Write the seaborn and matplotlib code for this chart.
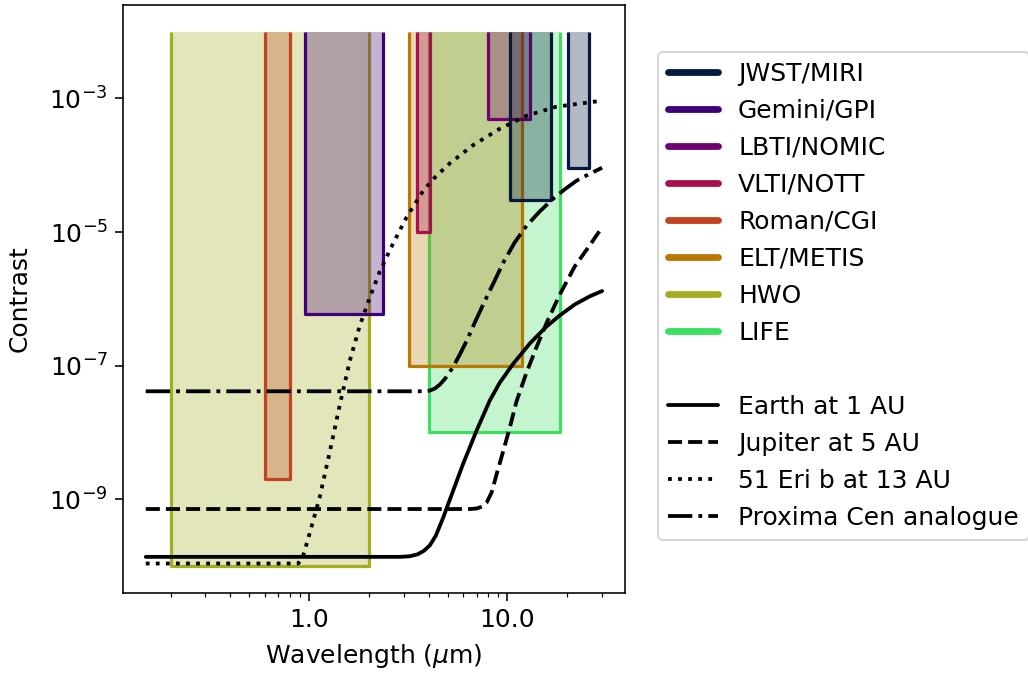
import matplotlib
matplotlib.use("Agg")
import matplotlib.pyplot as plt
from matplotlib.colors import to_rgba
from matplotlib.lines import Line2D
from matplotlib import ticker
import seaborn as sns

# Instruments, in legend order, with their colours
instruments = ["JWST/MIRI", "Gemini/GPI", "LBTI/NOMIC", "VLTI/NOTT",
               "Roman/CGI", "ELT/METIS", "HWO", "LIFE"]
inst_colors = ["#061740", "#3f0077", "#710072", "#a8114d",
               "#c1431f", "#b97800", "#a3ad1f", "#3ddf62"]

# Coverage boxes: wavelength band (micron) and the deepest contrast reached
box_instrument = ["JWST/MIRI", "JWST/MIRI", "Gemini/GPI", "LBTI/NOMIC", "VLTI/NOTT",
                  "Roman/CGI", "ELT/METIS", "HWO", "LIFE"]
box_wl_min = [10.3, 20.2, 0.95, 8.0, 3.5, 0.6, 3.2, 0.2, 4.0]
box_wl_max = [16.5, 25.7, 2.35, 13.0, 4.05, 0.8, 11.8, 2.0, 18.5]
box_floor = [3.0e-5, 9.0e-5, 6.0e-7, 5.0e-4, 1.0e-5, 2.0e-9, 1.0e-7, 1.0e-10, 1.0e-8]
box_ceiling = 1.0e-2

# Planet-to-star contrast spectra
earth_wl = [0.15, 2.87, 3.22, 3.53, 3.79, 4.06, 4.35, 4.74, 5.32, 5.97, 6.98, 8.14,
            9.15, 10.67, 12.95, 15.73, 18.35, 21.84, 25.98, 30.0]
earth_c = [1.37e-10, 1.37e-10, 1.40e-10, 1.50e-10, 1.69e-10, 2.04e-10, 2.84e-10, 5.29e-10,
           1.34e-9, 3.37e-9, 1.06e-8, 3.0e-8, 5.58e-8, 1.06e-7, 2.14e-7, 3.85e-7,
           5.64e-7, 8.24e-7, 1.09e-6, 1.31e-6]

jupiter_wl = [0.15, 6.46, 7.0, 7.42, 7.84, 8.31, 8.80, 9.50, 10.27, 11.10, 12.47, 14.05,
              15.78, 18.35, 21.84, 25.98, 30.0]
jupiter_c = [7.13e-10, 7.13e-10, 7.26e-10, 7.73e-10, 8.87e-10, 1.25e-9, 2.33e-9, 5.15e-9,
             1.18e-8, 2.90e-8, 7.88e-8, 1.93e-7, 4.42e-7, 1.16e-6, 3.06e-6, 6.32e-6, 1.18e-5]

eri_wl = [0.15, 0.88, 0.929, 1.008, 1.132, 1.271, 1.428, 1.604, 1.801, 2.023, 2.272, 2.651,
          3.097, 3.755, 4.337, 5.12, 6.708, 9.146, 12.47, 17.66, 30.0]
eri_c = [1.09e-10, 1.09e-10, 1.37e-10, 3.15e-10, 1.09e-9, 5.15e-9, 2.61e-8, 1.19e-7, 3.99e-7,
         1.05e-6, 2.58e-6, 6.78e-6, 1.66e-5, 4.15e-5, 6.73e-5, 1.07e-4, 2.0e-4, 3.52e-4,
         5.52e-4, 7.54e-4, 9.27e-4]

proxima_wl = [0.15, 3.83, 4.06, 4.30, 4.56, 4.83, 5.12, 5.43, 5.75, 6.22, 6.84, 7.84, 8.63,
              9.50, 10.88, 12.47, 14.55, 16.98, 19.45, 22.27, 25.98, 30.0]
proxima_c = [4.13e-8, 4.13e-8, 4.23e-8, 4.54e-8, 5.21e-8, 6.30e-8, 8.02e-8, 1.07e-7, 1.47e-7,
             2.34e-7, 4.42e-7, 1.05e-6, 1.89e-6, 3.45e-6, 7.01e-6, 1.24e-5, 2.04e-5, 3.15e-5,
             4.37e-5, 5.86e-5, 7.46e-5, 9.18e-5]

curve_labels = ["Earth at 1 AU", "Jupiter at 5 AU", "51 Eri b at 13 AU", "Proxima Cen analogue"]
curve_styles = ["-", "--", ":", "-."]
curves = [(earth_wl, earth_c), (jupiter_wl, jupiter_c), (eri_wl, eri_c), (proxima_wl, proxima_c)]

FS = 12.5
sns.set_theme(style="ticks", rc={
    "axes.edgecolor": "black", "axes.labelcolor": "black", "text.color": "black",
    "xtick.color": "black", "ytick.color": "black",
    "axes.linewidth": 0.8, "xtick.major.width": 0.8, "ytick.major.width": 0.8,
    "xtick.minor.width": 0.6, "xtick.major.size": 4, "ytick.major.size": 4,
    "xtick.minor.size": 2, "font.size": FS, "axes.labelsize": FS,
    "xtick.labelsize": FS, "ytick.labelsize": FS, "legend.fontsize": FS,
})
plt.rcParams["font.family"] = ["DejaVu Sans"]

fig = plt.figure(figsize=(1028 / 144, 673 / 144), dpi=144)
ax = fig.add_axes([0.1196, 0.1193, 0.4883, 0.8733])
ax.set_xscale("log")
ax.set_yscale("log")

color_of = dict(zip(instruments, inst_colors))
boxes = list(zip(box_instrument, box_wl_min, box_wl_max, box_floor))
# later instruments in the legend sit underneath earlier ones
for i, (name, lo, hi, floor) in enumerate(reversed(boxes)):
    col = color_of[name]
    z = 1 + 0.01 * i
    ax.fill_between([lo, hi], floor, box_ceiling, facecolor=to_rgba(col, 0.3),
                    edgecolor="none", linewidth=0, zorder=z)
    ax.plot([lo, lo, hi, hi], [box_ceiling, floor, floor, box_ceiling], color=col,
            lw=1.6, solid_capstyle="butt", zorder=z + 0.005)

for (wl, c), ls in zip(curves, curve_styles):
    sns.lineplot(x=wl, y=c, ax=ax, color="black", lw=1.9, linestyle=ls,
                 sort=False, estimator=None, zorder=3)

ax.xaxis.set_major_locator(ticker.FixedLocator([1.0, 10.0]))
ax.xaxis.set_major_formatter(ticker.FormatStrFormatter("%.1f"))
ax.xaxis.set_minor_locator(ticker.LogLocator(base=10, subs=[2, 3, 4, 5, 6, 7, 8, 9]))
ax.xaxis.set_minor_formatter(ticker.NullFormatter())
ax.yaxis.set_major_locator(ticker.FixedLocator([1e-9, 1e-7, 1e-5, 1e-3]))
ax.yaxis.set_major_formatter(ticker.LogFormatterSciNotation())
ax.yaxis.set_minor_locator(ticker.NullLocator())

ax.set_xlabel(r"Wavelength ($\mu$m)", labelpad=5)
ax.set_ylabel("Contrast", labelpad=9)

handles = [Line2D([], [], color=c, lw=3.4) for c in inst_colors]
labels = list(instruments)
handles.append(Line2D([], [], color="none"))
labels.append(" ")
for lab, ls in zip(curve_labels, curve_styles):
    handles.append(Line2D([], [], color="black", lw=1.9, linestyle=ls))
    labels.append(lab)

ax.legend(handles, labels, loc="center left", bbox_to_anchor=(1.066, 0.505),
          borderaxespad=0, frameon=True, fancybox=True, edgecolor="0.8",
          framealpha=0.8, labelspacing=0.52)

fig.savefig("out.png", dpi=144)
